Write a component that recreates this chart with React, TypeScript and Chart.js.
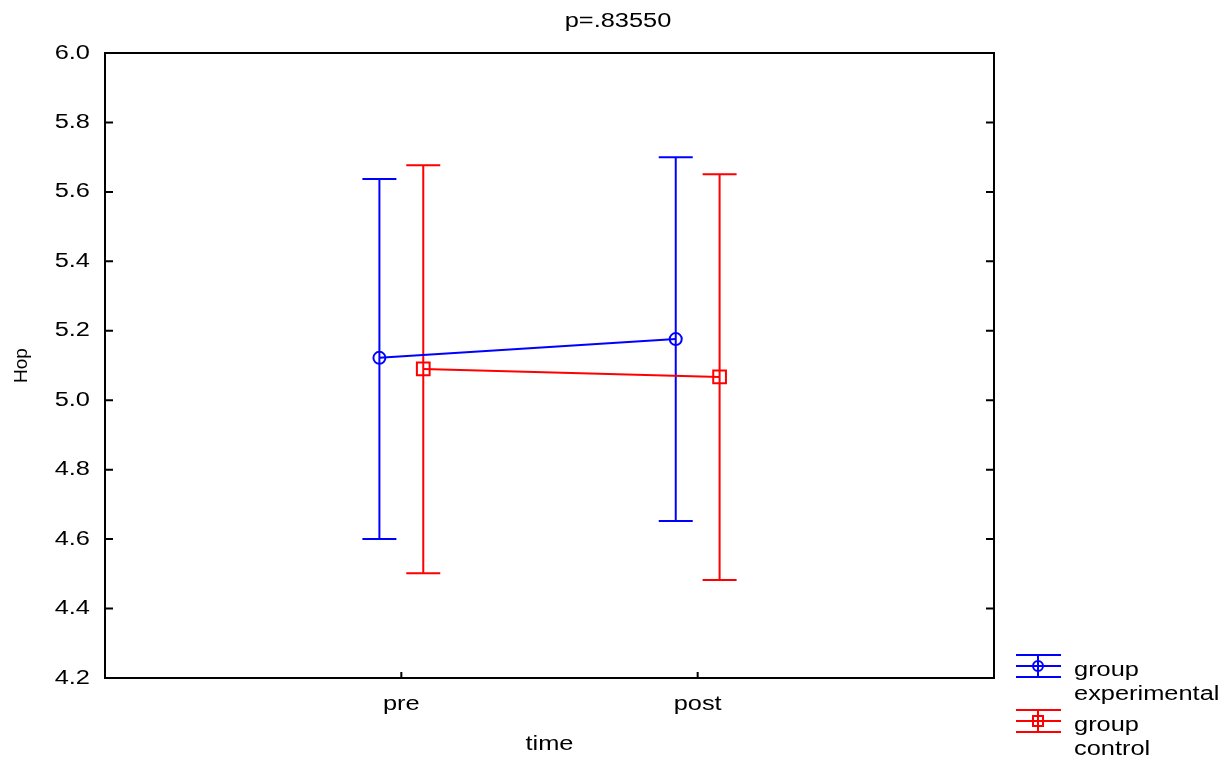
import React, { useEffect, useRef } from "react";
import { Chart, registerables } from "chart.js";

Chart.register(...registerables);

// ---- data ----
const categories = ["pre", "post"];
const titleText = "p=.83550";
const yAxisTitle = "Hop";
const xAxisTitle = "time";
const yTicks = [4.2, 4.4, 4.6, 4.8, 5.0, 5.2, 5.4, 5.6, 5.8, 6.0];

const expLabel = ["group", "experimental"];
const expMean = [5.122, 5.176];
const expUpper = [5.637, 5.7];
const expLower = [4.6, 4.652];

const ctlLabel = ["group", "control"];
const ctlMean = [5.09, 5.067];
const ctlUpper = [5.677, 5.651];
const ctlLower = [4.502, 4.482];

// ---- styles ----
const FONT = "'Liberation Sans', Arial, sans-serif";
const SX = 1.27; // horizontal stretch of the reference text
const BLUE = "#0000ff";
const RED = "#ff0000";
const DODGE = 0.074;
const CAP = 17;

const series = [
  { label: expLabel, mean: expMean, upper: expUpper, lower: expLower, color: BLUE, style: "circle", radius: 6, shift: -DODGE },
  { label: ctlLabel, mean: ctlMean, upper: ctlUpper, lower: ctlLower, color: RED, style: "rect", radius: 9, shift: DODGE },
];

function sText(ctx: CanvasRenderingContext2D, text: string, x: number, y: number, align: CanvasTextAlign, baseline: CanvasTextBaseline) {
  ctx.save();
  ctx.translate(x, y);
  ctx.scale(SX, 1);
  ctx.textAlign = align;
  ctx.textBaseline = baseline;
  ctx.fillText(text, 0, 0);
  ctx.restore();
}

const errorBarPlugin = {
  id: "errorBars",
  beforeDatasetsDraw(chart: any) {
    const ctx = chart.ctx;
    const ys = chart.scales.y;
    ctx.save();
    ctx.lineWidth = 2;
    series.forEach((s, i) => {
      const meta = chart.getDatasetMeta(i);
      ctx.strokeStyle = s.color;
      meta.data.forEach((pt: any, j: number) => {
        const x = pt.x;
        const yu = ys.getPixelForValue(s.upper[j]);
        const yl = ys.getPixelForValue(s.lower[j]);
        ctx.beginPath();
        ctx.moveTo(x, yu);
        ctx.lineTo(x, yl);
        ctx.moveTo(x - CAP, yu);
        ctx.lineTo(x + CAP, yu);
        ctx.moveTo(x - CAP, yl);
        ctx.lineTo(x + CAP, yl);
        ctx.stroke();
      });
    });
    ctx.restore();
  },
};

const framePlugin = {
  id: "frame",
  afterDraw(chart: any) {
    const ctx: CanvasRenderingContext2D = chart.ctx;
    const a = chart.chartArea;
    const ys = chart.scales.y;
    const xs = chart.scales.x;
    ctx.save();
    ctx.strokeStyle = "#000";
    ctx.lineWidth = 2;
    ctx.strokeRect(a.left, a.top, a.right - a.left, a.bottom - a.top);
    ctx.beginPath();
    yTicks.forEach((v) => {
      const y = ys.getPixelForValue(v);
      ctx.moveTo(a.left, y);
      ctx.lineTo(a.left + 8, y);
      ctx.moveTo(a.right, y);
      ctx.lineTo(a.right - 8, y);
    });
    categories.forEach((_, i) => {
      const x = xs.getPixelForValue(i + 1);
      ctx.moveTo(x, a.bottom);
      ctx.lineTo(x, a.bottom - 6);
    });
    ctx.stroke();

    // texts
    ctx.fillStyle = "#000";
    ctx.font = `20px ${FONT}`;
    yTicks.forEach((v) => {
      sText(ctx, v.toFixed(1), a.left - 15, ys.getPixelForValue(v), "right", "middle");
    });
    categories.forEach((c, i) => {
      sText(ctx, c, xs.getPixelForValue(i + 1), a.bottom + 32, "center", "alphabetic");
    });
    sText(ctx, xAxisTitle, (a.left + a.right) / 2, a.bottom + 72, "center", "alphabetic");
    sText(ctx, titleText, 618, 27, "center", "alphabetic");

    ctx.save();
    ctx.font = `19px ${FONT}`;
    ctx.translate(27, (a.top + a.bottom) / 2);
    ctx.rotate(-Math.PI / 2);
    ctx.textAlign = "center";
    ctx.textBaseline = "alphabetic";
    ctx.fillText(yAxisTitle, 0, 0);
    ctx.restore();

    // legend
    const lx = a.right + 22;
    let ly = 666;
    series.forEach((s) => {
      ctx.strokeStyle = s.color;
      ctx.lineWidth = 2;
      ctx.beginPath();
      ctx.moveTo(lx, ly - 11);
      ctx.lineTo(lx + 45, ly - 11);
      ctx.moveTo(lx, ly);
      ctx.lineTo(lx + 45, ly);
      ctx.moveTo(lx, ly + 11);
      ctx.lineTo(lx + 45, ly + 11);
      ctx.moveTo(lx + 22, ly - 11);
      ctx.lineTo(lx + 22, ly + 11);
      ctx.stroke();
      ctx.beginPath();
      if (s.style === "circle") {
        ctx.arc(lx + 22, ly, 5, 0, Math.PI * 2);
      } else {
        ctx.rect(lx + 17, ly - 5, 10, 10);
      }
      ctx.stroke();
      ctx.fillStyle = "#000";
      ctx.font = `20px ${FONT}`;
      sText(ctx, s.label[0], lx + 58, ly + 10, "left", "alphabetic");
      sText(ctx, s.label[1], lx + 58, ly + 34, "left", "alphabetic");
      ly += 55;
    });
    ctx.restore();
  },
};

export default function App() {
  const ref = useRef<HTMLCanvasElement | null>(null);

  useEffect(() => {
    if (!ref.current) return;
    const chart = new Chart(ref.current, {
      type: "line",
      data: {
        datasets: series.map((s) => ({
          label: s.label.join(" "),
          data: s.mean.map((m, j) => ({ x: j + 1 + s.shift, y: m })),
          borderColor: s.color,
          backgroundColor: "transparent",
          borderWidth: 2,
          pointStyle: s.style as any,
          pointRadius: s.radius,
          pointBorderWidth: 2,
          pointBorderColor: s.color,
          pointBackgroundColor: "transparent",
          tension: 0,
        })),
      },
      options: {
        animation: false,
        responsive: true,
        maintainAspectRatio: false,
        layout: { padding: { left: 0, right: 229, top: 53, bottom: 0 } },
        plugins: {
          legend: { display: false },
          tooltip: { enabled: false },
          title: { display: false },
        },
        scales: {
          x: {
            type: "linear",
            min: 0,
            max: 3,
            grid: { display: false, drawTicks: false },
            border: { display: false },
            afterBuildTicks: (s: any) => {
              s.ticks = categories.map((_, i) => ({ value: i + 1 }));
            },
            afterFit: (s: any) => {
              s.height = 80;
            },
            ticks: { display: false },
          },
          y: {
            type: "linear",
            min: 4.2,
            max: 6.0,
            grid: { display: false, drawTicks: false },
            border: { display: false },
            afterBuildTicks: (s: any) => {
              s.ticks = yTicks.map((v) => ({ value: v }));
            },
            afterFit: (s: any) => {
              s.width = 105;
            },
            ticks: { display: false },
          },
        },
      },
      plugins: [errorBarPlugin, framePlugin],
    });
    return () => chart.destroy();
  }, []);

  return (
    <div style={{ position: "absolute", left: 0, top: 0, width: 1223, height: 758, background: "#fff" }}>
      <canvas ref={ref} />
    </div>
  );
}
